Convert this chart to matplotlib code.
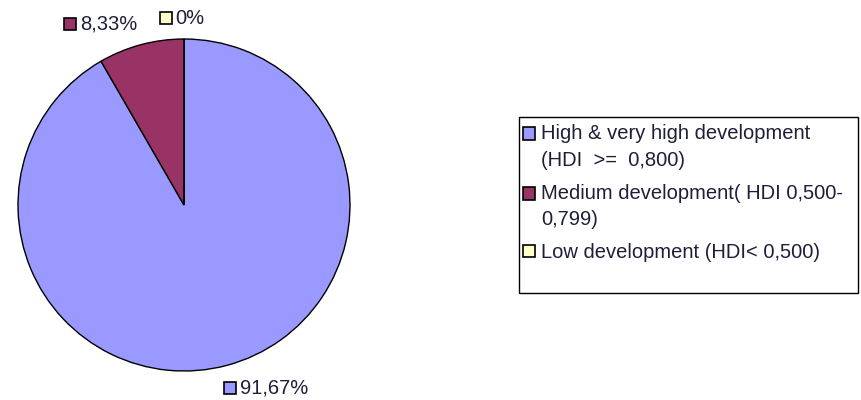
import matplotlib
matplotlib.use("Agg")
import matplotlib.pyplot as plt
from matplotlib.patches import Rectangle
from matplotlib.legend_handler import HandlerPatch

plt.rcParams['font.family'] = ['Liberation Sans', 'DejaVu Sans']

categories = ['High & very high development\n(HDI  >=  0,800)',
              'Medium development( HDI 0,500-\n0,799)',
              'Low development (HDI< 0,500)']
shares = [91.67, 8.33, 0.0]
share_labels = ['91,67%', '8,33%', '0%']
colors = ['#9999ff', '#993366', '#ffffcc']
text_color = '#1e1e3a'

fig = plt.figure(figsize=(8.61, 4.0), dpi=100)
ax = fig.add_axes([18 / 861, 29 / 400, 332 / 861, 332 / 400])

wedges, _ = ax.pie(shares, colors=colors, startangle=90, counterclock=False,
                   radius=1.0, wedgeprops=dict(edgecolor='black', linewidth=1.0))
ax.set_xlim(-1, 1)
ax.set_ylim(-1, 1)
ax.set_aspect('equal')
ax.axis('off')

# label spots (square centre) in pie units, Excel-style placement
label_pos = [(0.277, -1.1), (-0.687, 1.09), (-0.11, 1.125)]
for (x, y), lab, c in zip(label_pos, share_labels, colors):
    ax.plot(x, y, marker='s', markersize=9, markerfacecolor=c,
            markeredgecolor='black', markeredgewidth=1.2, clip_on=False)
    ax.text(x + 0.06, y, lab, fontsize=14.5, color=text_color,
            ha='left', va='center', clip_on=False)


def top_square(shift):
    # Excel puts the key next to the first line of a wrapped entry
    def f(legend, orig_handle, xdescent, ydescent, width, height, fontsize):
        return Rectangle((-xdescent, -ydescent + shift), width, height)
    return HandlerPatch(patch_func=f)


handles = [Rectangle((0, 0), 1, 1, facecolor=c, edgecolor='black', linewidth=1.2)
           for c in colors]
hmap = {h: top_square(9.8 * lab.count('\n')) for h, lab in zip(handles, categories)}
leg = fig.legend(handles, categories, loc='upper left',
                 bbox_to_anchor=(523 / 861, 1 - 124 / 400),
                 fontsize=14.5, frameon=False, handler_map=hmap,
                 handlelength=0.6, handleheight=0.6,
                 handletextpad=0.3, labelspacing=0.7, borderpad=0,
                 borderaxespad=0)
for t in leg.get_texts():
    t.set_color(text_color)
    t.set_linespacing(1.5)

# legend box as Excel draws it, taller than its entries
fig.patches.append(Rectangle((519 / 861, 1 - 293 / 400), 339 / 861, 176 / 400,
                             transform=fig.transFigure, facecolor='none',
                             edgecolor='black', linewidth=1.0))

fig.savefig('out.png', dpi=100)
